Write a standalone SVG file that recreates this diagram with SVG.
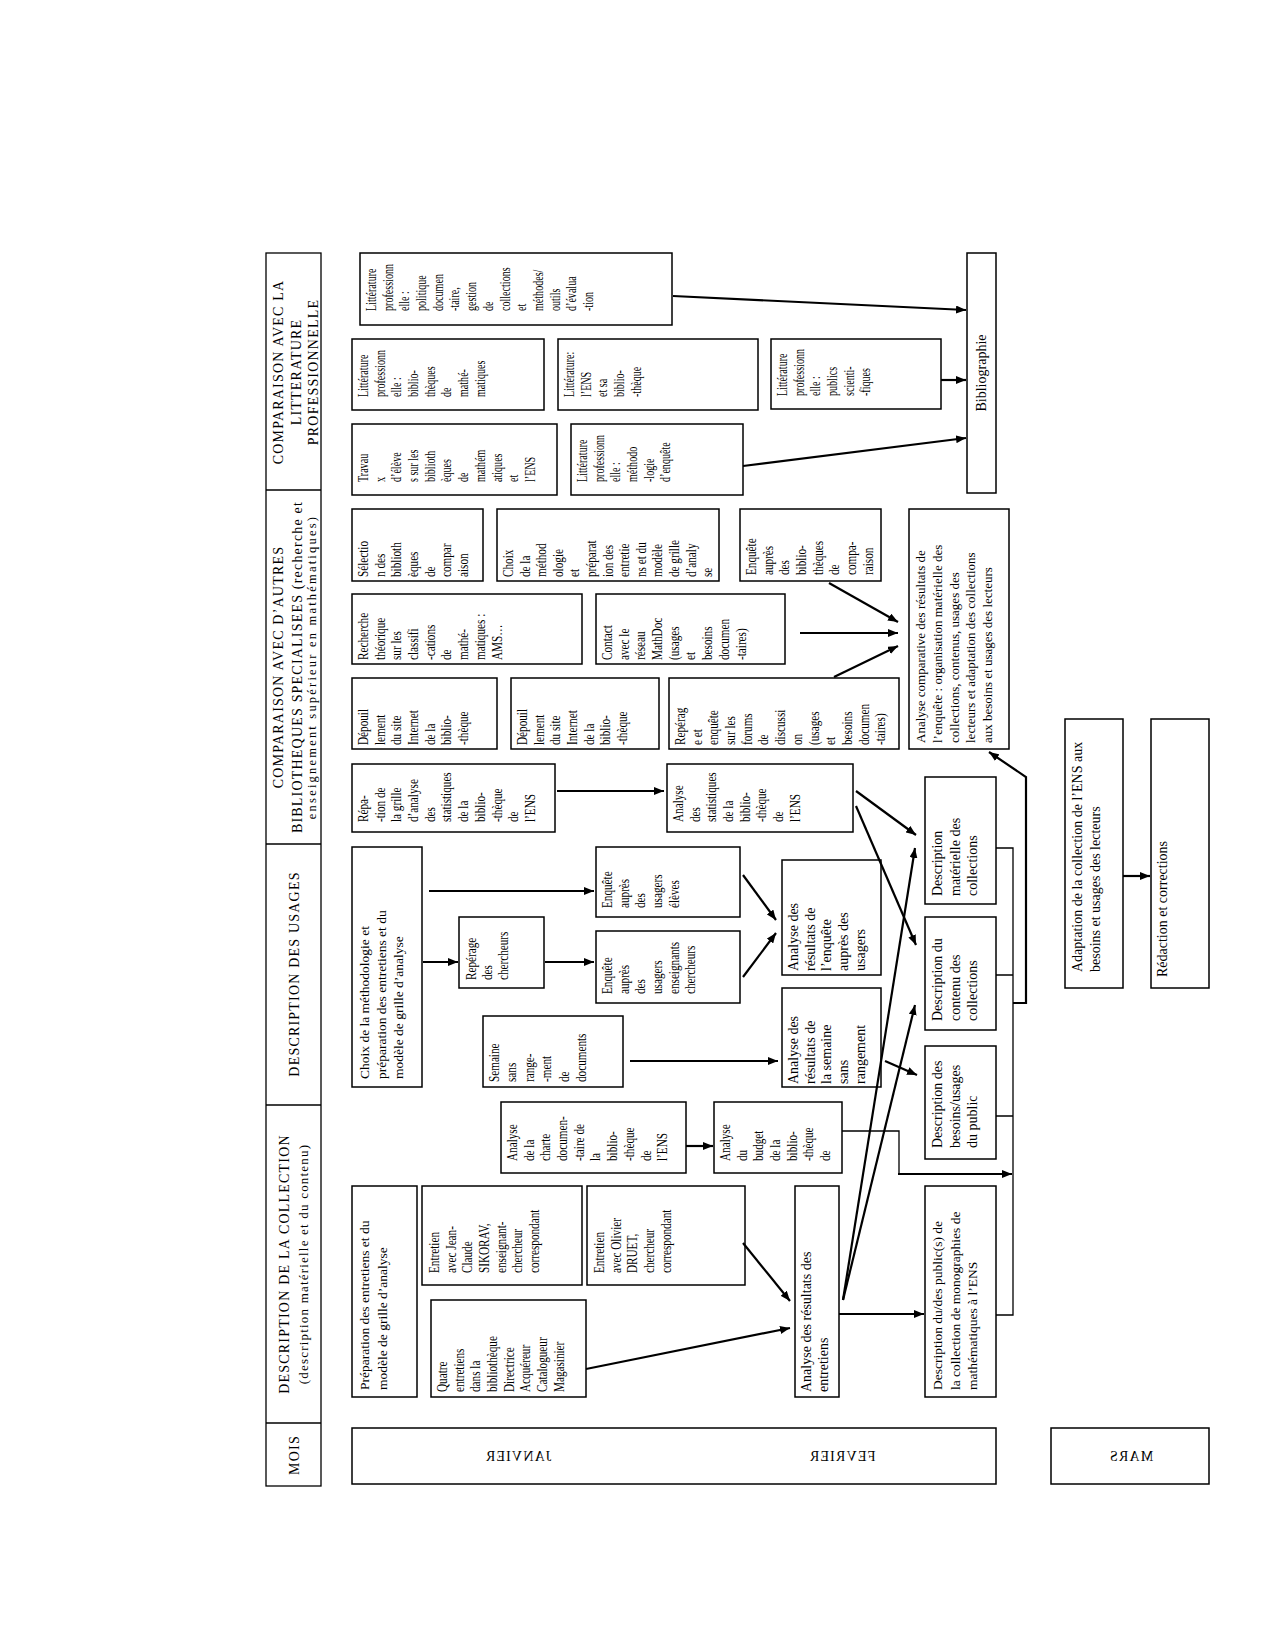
<svg xmlns="http://www.w3.org/2000/svg" width="1276" height="1635" viewBox="0 0 1276 1635">
<style>
.box{fill:#fff;stroke:#000;stroke-width:1.5}
.hb{fill:none;stroke:#000;stroke-width:1.3}
.t{font-family:"Liberation Serif","Times New Roman",serif;font-size:14px;fill:#000}
.h{font-family:"Liberation Serif","Times New Roman",serif;font-size:14px;fill:#000;letter-spacing:1.2px;text-anchor:middle}
.c{stroke:#000;stroke-width:2.2;fill:none}
.th{stroke:#000;stroke-width:1.3;fill:none}
</style>
<defs>
<marker id="ah" viewBox="0 0 10 8" refX="10" refY="4" markerWidth="10" markerHeight="8" markerUnits="userSpaceOnUse" orient="auto"><path d="M0,0 L10,4 L0,8 z" fill="#000"/></marker>
</defs>
<rect width="1276" height="1635" fill="#fff"/>

<g id="header">
<rect class="hb" x="266" y="253" width="55" height="1233"/>
<line class="hb" x1="266" y1="490" x2="321" y2="490"/>
<line class="hb" x1="266" y1="844" x2="321" y2="844"/>
<line class="hb" x1="266" y1="1105" x2="321" y2="1105"/>
<line class="hb" x1="266" y1="1423" x2="321" y2="1423"/>
<text class="h" transform="translate(283,372) rotate(-90)"><tspan x="0" y="0">COMPARAISON AVEC LA</tspan><tspan x="0" dy="17.5">LITTERATURE</tspan><tspan x="0" dy="17.5">PROFESSIONNELLE</tspan></text>
<text class="h" transform="translate(283,667) rotate(-90)"><tspan x="0" y="0">COMPARAISON AVEC D’AUTRES</tspan><tspan x="0" dy="18.5">BIBLIOTHEQUES SPECIALISEES (recherche et</tspan><tspan x="0" dy="14.5" style="font-size:12.5px;letter-spacing:2.2px">enseignement supérieur en mathématiques)</tspan></text>
<text class="h" transform="translate(299,974) rotate(-90)">DESCRIPTION DES USAGES</text>
<text class="h" transform="translate(289,1264) rotate(-90)"><tspan x="0" y="0">DESCRIPTION DE LA COLLECTION</tspan><tspan x="0" dy="18.5" style="font-size:13px">(description matérielle et du contenu)</tspan></text>
<text class="h" transform="translate(299,1455) rotate(-90)">MOIS</text>
</g>

<g id="months">
<rect class="box" x="352" y="1428" width="644" height="56"/>
<rect class="box" x="1051" y="1428" width="158" height="56"/>
<text class="h" transform="translate(518,1461) scale(-1,1)">JANVIER</text>
<text class="h" transform="translate(842,1461) scale(-1,1)">FEVRIER</text>
<text class="h" transform="translate(1131,1461) scale(-1,1)">MARS</text>
</g>

<g id="n-lit-politique">
<rect class="box" x="360" y="253" width="312" height="72"/>
<text class="t" transform="translate(376,311) rotate(-90) scale(0.72,1)"><tspan x="0" y="0">Littérature</tspan><tspan x="0" dy="16.7">professionn</tspan><tspan x="0" dy="16.7">elle :</tspan><tspan x="0" dy="16.7">politique</tspan><tspan x="0" dy="16.7">documen</tspan><tspan x="0" dy="16.7">-taire,</tspan><tspan x="0" dy="16.7">gestion</tspan><tspan x="0" dy="16.7">de</tspan><tspan x="0" dy="16.7">collections</tspan><tspan x="0" dy="16.7">et</tspan><tspan x="0" dy="16.7">méthodes/</tspan><tspan x="0" dy="16.7">outils</tspan><tspan x="0" dy="16.7">d’évalua</tspan><tspan x="0" dy="16.7">-tion</tspan></text>
</g>
<g id="n-lit-biblio-math">
<rect class="box" x="352" y="339" width="192" height="71"/>
<text class="t" transform="translate(368,397) rotate(-90) scale(0.72,1)"><tspan x="0" y="0">Littérature</tspan><tspan x="0" dy="16.7">professionn</tspan><tspan x="0" dy="16.7">elle :</tspan><tspan x="0" dy="16.7">biblio-</tspan><tspan x="0" dy="16.7">thèques</tspan><tspan x="0" dy="16.7">de</tspan><tspan x="0" dy="16.7">mathé-</tspan><tspan x="0" dy="16.7">matiques</tspan></text>
</g>
<g id="n-lit-ens">
<rect class="box" x="558" y="339" width="200" height="71"/>
<text class="t" transform="translate(574,397) rotate(-90) scale(0.72,1)"><tspan x="0" y="0">Littérature:</tspan><tspan x="0" dy="16.7">l’ENS</tspan><tspan x="0" dy="16.7">et sa</tspan><tspan x="0" dy="16.7">biblio-</tspan><tspan x="0" dy="16.7">-thèque</tspan></text>
</g>
<g id="n-lit-publics">
<rect class="box" x="771" y="339" width="170" height="70"/>
<text class="t" transform="translate(787,396) rotate(-90) scale(0.72,1)"><tspan x="0" y="0">Littérature</tspan><tspan x="0" dy="16.7">professionn</tspan><tspan x="0" dy="16.7">elle :</tspan><tspan x="0" dy="16.7">publics</tspan><tspan x="0" dy="16.7">scienti-</tspan><tspan x="0" dy="16.7">-fiques</tspan></text>
</g>
<g id="n-travaux">
<rect class="box" x="352" y="424" width="205" height="71"/>
<text class="t" transform="translate(368,482) rotate(-90) scale(0.72,1)"><tspan x="0" y="0">Travau</tspan><tspan x="0" dy="16.7">x</tspan><tspan x="0" dy="16.7">d’élève</tspan><tspan x="0" dy="16.7">s sur les</tspan><tspan x="0" dy="16.7">biblioth</tspan><tspan x="0" dy="16.7">èques</tspan><tspan x="0" dy="16.7">de</tspan><tspan x="0" dy="16.7">mathém</tspan><tspan x="0" dy="16.7">atiques</tspan><tspan x="0" dy="16.7">et</tspan><tspan x="0" dy="16.7">l’ENS</tspan></text>
</g>
<g id="n-lit-methodo">
<rect class="box" x="571" y="424" width="172" height="71"/>
<text class="t" transform="translate(587,482) rotate(-90) scale(0.72,1)"><tspan x="0" y="0">Littérature</tspan><tspan x="0" dy="16.7">professionn</tspan><tspan x="0" dy="16.7">elle :</tspan><tspan x="0" dy="16.7">méthodo</tspan><tspan x="0" dy="16.7">-logie</tspan><tspan x="0" dy="16.7">d’enquête</tspan></text>
</g>
<g id="n-bibliographie">
<rect class="box" x="967" y="253" width="29" height="240"/>
<text class="t" transform="translate(986,373) rotate(-90)" text-anchor="middle">Bibliographie</text>
</g>

<g id="n-selection">
<rect class="box" x="352" y="509" width="131" height="72"/>
<text class="t" transform="translate(368,577) rotate(-90) scale(0.8,1)"><tspan x="0" y="0">Sélectio</tspan><tspan x="0" dy="16.7">n des</tspan><tspan x="0" dy="16.7">biblioth</tspan><tspan x="0" dy="16.7">èques</tspan><tspan x="0" dy="16.7">de</tspan><tspan x="0" dy="16.7">compar</tspan><tspan x="0" dy="16.7">aison</tspan></text>
</g>
<g id="n-choix-methodo-comp">
<rect class="box" x="497" y="509" width="222" height="72"/>
<text class="t" transform="translate(513,577) rotate(-90) scale(0.8,1)"><tspan x="0" y="0">Choix</tspan><tspan x="0" dy="16.6">de la</tspan><tspan x="0" dy="16.6">méthod</tspan><tspan x="0" dy="16.6">ologie</tspan><tspan x="0" dy="16.6">et</tspan><tspan x="0" dy="16.6">préparat</tspan><tspan x="0" dy="16.6">ion des</tspan><tspan x="0" dy="16.6">entretie</tspan><tspan x="0" dy="16.6">ns et du</tspan><tspan x="0" dy="16.6">modèle</tspan><tspan x="0" dy="16.6">de grille</tspan><tspan x="0" dy="16.6">d’analy</tspan><tspan x="0" dy="16.6">se</tspan></text>
</g>
<g id="n-enquete-biblio">
<rect class="box" x="740" y="509" width="141" height="72"/>
<text class="t" transform="translate(756,575) rotate(-90) scale(0.8,1)"><tspan x="0" y="0">Enquête</tspan><tspan x="0" dy="16.7">auprès</tspan><tspan x="0" dy="16.7">des</tspan><tspan x="0" dy="16.7">biblio-</tspan><tspan x="0" dy="16.7">thèques</tspan><tspan x="0" dy="16.7">de</tspan><tspan x="0" dy="16.7">compa-</tspan><tspan x="0" dy="16.7">raison</tspan></text>
</g>
<g id="n-recherche">
<rect class="box" x="352" y="594" width="230" height="70"/>
<text class="t" transform="translate(368,660) rotate(-90) scale(0.8,1)"><tspan x="0" y="0">Recherche</tspan><tspan x="0" dy="16.7">théorique</tspan><tspan x="0" dy="16.7">sur les</tspan><tspan x="0" dy="16.7">classifi</tspan><tspan x="0" dy="16.7">-cations</tspan><tspan x="0" dy="16.7">de</tspan><tspan x="0" dy="16.7">mathé-</tspan><tspan x="0" dy="16.7">matiques :</tspan><tspan x="0" dy="16.7">AMS…</tspan></text>
</g>
<g id="n-contact">
<rect class="box" x="596" y="594" width="189" height="70"/>
<text class="t" transform="translate(612,660) rotate(-90) scale(0.8,1)"><tspan x="0" y="0">Contact</tspan><tspan x="0" dy="16.7">avec le</tspan><tspan x="0" dy="16.7">réseau</tspan><tspan x="0" dy="16.7">MathDoc</tspan><tspan x="0" dy="16.7">(usages</tspan><tspan x="0" dy="16.7">et</tspan><tspan x="0" dy="16.7">besoins</tspan><tspan x="0" dy="16.7">documen</tspan><tspan x="0" dy="16.7">-taires)</tspan></text>
</g>
<g id="n-depouillement-1">
<rect class="box" x="352" y="678" width="145" height="71"/>
<text class="t" transform="translate(368,745) rotate(-90) scale(0.8,1)"><tspan x="0" y="0">Dépouil</tspan><tspan x="0" dy="16.7">lement</tspan><tspan x="0" dy="16.7">du site</tspan><tspan x="0" dy="16.7">Internet</tspan><tspan x="0" dy="16.7">de la</tspan><tspan x="0" dy="16.7">biblio-</tspan><tspan x="0" dy="16.7">-thèque</tspan></text>
</g>
<g id="n-depouillement-2">
<rect class="box" x="511" y="678" width="148" height="71"/>
<text class="t" transform="translate(527,745) rotate(-90) scale(0.8,1)"><tspan x="0" y="0">Dépouil</tspan><tspan x="0" dy="16.7">lement</tspan><tspan x="0" dy="16.7">du site</tspan><tspan x="0" dy="16.7">Internet</tspan><tspan x="0" dy="16.7">de la</tspan><tspan x="0" dy="16.7">biblio-</tspan><tspan x="0" dy="16.7">-thèque</tspan></text>
</g>
<g id="n-forums">
<rect class="box" x="669" y="678" width="230" height="71"/>
<text class="t" transform="translate(685,745) rotate(-90) scale(0.8,1)"><tspan x="0" y="0">Repérag</tspan><tspan x="0" dy="16.7">e et</tspan><tspan x="0" dy="16.7">enquête</tspan><tspan x="0" dy="16.7">sur les</tspan><tspan x="0" dy="16.7">forums</tspan><tspan x="0" dy="16.7">de</tspan><tspan x="0" dy="16.7">discussi</tspan><tspan x="0" dy="16.7">on</tspan><tspan x="0" dy="16.7">(usages</tspan><tspan x="0" dy="16.7">et</tspan><tspan x="0" dy="16.7">besoins</tspan><tspan x="0" dy="16.7">documen</tspan><tspan x="0" dy="16.7">-taires)</tspan></text>
</g>
<g id="n-analyse-comparative">
<rect class="box" x="909" y="509" width="100" height="240"/>
<text class="t" transform="translate(925,743) rotate(-90)" style="font-size:13px"><tspan x="0" y="0">Analyse comparative des résultats de</tspan><tspan x="0" dy="16.8">l’enquête : organisation matérielle des</tspan><tspan x="0" dy="16.8">collections, contenus, usages des</tspan><tspan x="0" dy="16.8">lecteurs et adaptation des collections</tspan><tspan x="0" dy="16.8">aux besoins et usages des lecteurs</tspan></text>
</g>
<g id="n-grille-stats">
<rect class="box" x="352" y="764" width="203" height="68"/>
<text class="t" transform="translate(368,822) rotate(-90) scale(0.8,1)"><tspan x="0" y="0">Répa-</tspan><tspan x="0" dy="16.7">-tion de</tspan><tspan x="0" dy="16.7">la grille</tspan><tspan x="0" dy="16.7">d’analyse</tspan><tspan x="0" dy="16.7">des</tspan><tspan x="0" dy="16.7">statistiques</tspan><tspan x="0" dy="16.7">de la</tspan><tspan x="0" dy="16.7">biblio-</tspan><tspan x="0" dy="16.7">-thèque</tspan><tspan x="0" dy="16.7">de</tspan><tspan x="0" dy="16.7">l’ENS</tspan></text>
</g>
<g id="n-analyse-stats">
<rect class="box" x="667" y="764" width="186" height="68"/>
<text class="t" transform="translate(683,822) rotate(-90) scale(0.8,1)"><tspan x="0" y="0">Analyse</tspan><tspan x="0" dy="16.7">des</tspan><tspan x="0" dy="16.7">statistiques</tspan><tspan x="0" dy="16.7">de la</tspan><tspan x="0" dy="16.7">biblio-</tspan><tspan x="0" dy="16.7">-thèque</tspan><tspan x="0" dy="16.7">de</tspan><tspan x="0" dy="16.7">l’ENS</tspan></text>
</g>

<g id="n-choix-methodo-usages">
<rect class="box" x="352" y="847" width="70" height="240"/>
<text class="t" transform="translate(369,1079) rotate(-90)" style="font-size:13.5px"><tspan x="0" y="0">Choix de la méthodologie et</tspan><tspan x="0" dy="17">préparation des entretiens et du</tspan><tspan x="0" dy="17">modèle de grille d’analyse</tspan></text>
</g>
<g id="n-reperage-chercheurs">
<rect class="box" x="459" y="917" width="85" height="71"/>
<text class="t" transform="translate(476,980) rotate(-90) scale(0.8,1)"><tspan x="0" y="0">Repérage</tspan><tspan x="0" dy="16">des</tspan><tspan x="0" dy="16">chercheurs</tspan></text>
</g>
<g id="n-enquete-eleves">
<rect class="box" x="596" y="847" width="144" height="70"/>
<text class="t" transform="translate(612,908) rotate(-90) scale(0.8,1)"><tspan x="0" y="0">Enquête</tspan><tspan x="0" dy="16.7">auprès</tspan><tspan x="0" dy="16.7">des</tspan><tspan x="0" dy="16.7">usagers</tspan><tspan x="0" dy="16.7">élèves</tspan></text>
</g>
<g id="n-enquete-enseignants">
<rect class="box" x="596" y="931" width="144" height="72"/>
<text class="t" transform="translate(612,994) rotate(-90) scale(0.8,1)"><tspan x="0" y="0">Enquête</tspan><tspan x="0" dy="16.7">auprès</tspan><tspan x="0" dy="16.7">des</tspan><tspan x="0" dy="16.7">usagers</tspan><tspan x="0" dy="16.7">enseignants</tspan><tspan x="0" dy="16.7">chercheurs</tspan></text>
</g>
<g id="n-analyse-enquete-usagers">
<rect class="box" x="782" y="860" width="99" height="115"/>
<text class="t" transform="translate(798,971) rotate(-90)"><tspan x="0" y="0">Analyse des</tspan><tspan x="0" dy="16.7">résultats de</tspan><tspan x="0" dy="16.7">l’enquête</tspan><tspan x="0" dy="16.7">auprès des</tspan><tspan x="0" dy="16.7">usagers</tspan></text>
</g>
<g id="n-semaine">
<rect class="box" x="483" y="1016" width="140" height="71"/>
<text class="t" transform="translate(499,1082) rotate(-90) scale(0.8,1)"><tspan x="0" y="0">Semaine</tspan><tspan x="0" dy="17.5">sans</tspan><tspan x="0" dy="17.5">range-</tspan><tspan x="0" dy="17.5">-ment</tspan><tspan x="0" dy="17.5">de</tspan><tspan x="0" dy="17.5">documents</tspan></text>
</g>
<g id="n-analyse-semaine">
<rect class="box" x="782" y="988" width="99" height="99"/>
<text class="t" transform="translate(798,1084) rotate(-90)"><tspan x="0" y="0">Analyse des</tspan><tspan x="0" dy="16.7">résultats de</tspan><tspan x="0" dy="16.7">la semaine</tspan><tspan x="0" dy="16.7">sans</tspan><tspan x="0" dy="16.7">rangement</tspan></text>
</g>

<g id="n-desc-materielle">
<rect class="box" x="925" y="777" width="71" height="127"/>
<text class="t" transform="translate(942,896) rotate(-90)"><tspan x="0" y="0">Description</tspan><tspan x="0" dy="17.5">matérielle des</tspan><tspan x="0" dy="17.5">collections</tspan></text>
</g>
<g id="n-desc-contenu">
<rect class="box" x="925" y="917" width="71" height="113"/>
<text class="t" transform="translate(942,1021) rotate(-90)"><tspan x="0" y="0">Description du</tspan><tspan x="0" dy="17.5">contenu des</tspan><tspan x="0" dy="17.5">collections</tspan></text>
</g>
<g id="n-desc-besoins">
<rect class="box" x="925" y="1046" width="71" height="113"/>
<text class="t" transform="translate(942,1148) rotate(-90)"><tspan x="0" y="0">Description des</tspan><tspan x="0" dy="17.5">besoins/usages</tspan><tspan x="0" dy="17.5">du public</tspan></text>
</g>
<g id="n-desc-publics">
<rect class="box" x="925" y="1186" width="71" height="211"/>
<text class="t" transform="translate(942,1390) rotate(-90)" style="font-size:13.5px"><tspan x="0" y="0">Description du/des public(s) de</tspan><tspan x="0" dy="17.5">la collection de monographies de</tspan><tspan x="0" dy="17.5">mathématiques à l’ENS</tspan></text>
</g>

<g id="n-charte">
<rect class="box" x="501" y="1102" width="185" height="71"/>
<text class="t" transform="translate(517,1161) rotate(-90) scale(0.8,1)"><tspan x="0" y="0">Analyse</tspan><tspan x="0" dy="16.7">de la</tspan><tspan x="0" dy="16.7">charte</tspan><tspan x="0" dy="16.7">documen-</tspan><tspan x="0" dy="16.7">-taire de</tspan><tspan x="0" dy="16.7">la</tspan><tspan x="0" dy="16.7">biblio-</tspan><tspan x="0" dy="16.7">-thèque</tspan><tspan x="0" dy="16.7">de</tspan><tspan x="0" dy="16.7">l’ENS</tspan></text>
</g>
<g id="n-budget">
<rect class="box" x="714" y="1102" width="128" height="71"/>
<text class="t" transform="translate(730,1161) rotate(-90) scale(0.8,1)"><tspan x="0" y="0">Analyse</tspan><tspan x="0" dy="16.7">du</tspan><tspan x="0" dy="16.7">budget</tspan><tspan x="0" dy="16.7">de la</tspan><tspan x="0" dy="16.7">biblio-</tspan><tspan x="0" dy="16.7">-thèque</tspan><tspan x="0" dy="16.7">de</tspan></text>
</g>
<g id="n-preparation-entretiens">
<rect class="box" x="352" y="1186" width="65" height="211"/>
<text class="t" transform="translate(369,1390) rotate(-90)" style="font-size:13.5px"><tspan x="0" y="0">Préparation des entretiens et du</tspan><tspan x="0" dy="17.5">modèle de grille d’analyse</tspan></text>
</g>
<g id="n-entretien-sikorav">
<rect class="box" x="422" y="1186" width="160" height="99"/>
<text class="t" transform="translate(439,1273) rotate(-90) scale(0.8,1)"><tspan x="0" y="0">Entretien</tspan><tspan x="0" dy="16.7">avec Jean-</tspan><tspan x="0" dy="16.7">Claude</tspan><tspan x="0" dy="16.7">SIKORAV,</tspan><tspan x="0" dy="16.7">enseignant-</tspan><tspan x="0" dy="16.7">chercheur</tspan><tspan x="0" dy="16.7">correspondant</tspan></text>
</g>
<g id="n-entretien-druet">
<rect class="box" x="587" y="1186" width="158" height="99"/>
<text class="t" transform="translate(604,1273) rotate(-90) scale(0.8,1)"><tspan x="0" y="0">Entretien</tspan><tspan x="0" dy="16.7">avec Olivier</tspan><tspan x="0" dy="16.7">DRUET,</tspan><tspan x="0" dy="16.7">chercheur</tspan><tspan x="0" dy="16.7">correspondant</tspan></text>
</g>
<g id="n-quatre-entretiens">
<rect class="box" x="431" y="1300" width="155" height="97"/>
<text class="t" transform="translate(447,1392) rotate(-90) scale(0.8,1)"><tspan x="0" y="0">Quatre</tspan><tspan x="0" dy="16.7">entretiens</tspan><tspan x="0" dy="16.7">dans la</tspan><tspan x="0" dy="16.7">bibliothèque</tspan><tspan x="0" dy="16.7">Directrice</tspan><tspan x="0" dy="16.7">Acquéreur</tspan><tspan x="0" dy="16.7">Catalogueur</tspan><tspan x="0" dy="16.7">Magasinier</tspan></text>
</g>
<g id="n-analyse-entretiens">
<rect class="box" x="795" y="1186" width="44" height="211"/>
<text class="t" transform="translate(811,1392) rotate(-90)"><tspan x="0" y="0">Analyse des résultats des</tspan><tspan x="0" dy="17">entretiens</tspan></text>
</g>

<g id="n-adaptation">
<rect class="box" x="1065" y="719" width="58" height="269"/>
<text class="t" transform="translate(1082,972) rotate(-90)"><tspan x="0" y="0">Adaptation de la collection de l’ENS aux</tspan><tspan x="0" dy="17.5">besoins et usages des lecteurs</tspan></text>
</g>
<g id="n-redaction">
<rect class="box" x="1151" y="719" width="58" height="269"/>
<text class="t" transform="translate(1167,977) rotate(-90)">Rédaction et corrections</text>
</g>

<g id="connectors">
<line class="c" x1="673" y1="296" x2="966" y2="310" marker-end="url(#ah)"/>
<line class="c" x1="941" y1="380" x2="966" y2="380" marker-end="url(#ah)"/>
<line class="c" x1="743" y1="466" x2="966" y2="438" marker-end="url(#ah)"/>
<line class="c" x1="829" y1="583" x2="898" y2="622" marker-end="url(#ah)"/>
<line class="c" x1="800" y1="633" x2="898" y2="633" marker-end="url(#ah)"/>
<line class="c" x1="834" y1="677" x2="898" y2="646" marker-end="url(#ah)"/>
<line class="c" x1="557" y1="791" x2="664" y2="791" marker-end="url(#ah)"/>
<path class="c" d="M1013,1003 H1026 V777 L989,752" marker-end="url(#ah)"/>
<path class="th" d="M996,848 H1013 V1315 H996 M996,975 H1013 M996,1116 H1013"/>
<line class="c" x1="429" y1="891" x2="594" y2="891" marker-end="url(#ah)"/>
<line class="c" x1="423" y1="962" x2="458" y2="962" marker-end="url(#ah)"/>
<line class="c" x1="545" y1="962" x2="594" y2="962" marker-end="url(#ah)"/>
<line class="c" x1="743" y1="875" x2="776" y2="920" marker-end="url(#ah)"/>
<line class="c" x1="743" y1="977" x2="776" y2="933" marker-end="url(#ah)"/>
<line class="c" x1="630" y1="1061" x2="778" y2="1061" marker-end="url(#ah)"/>
<line class="c" x1="856" y1="791" x2="916" y2="835" marker-end="url(#ah)"/>
<line class="c" x1="856" y1="806" x2="916" y2="945" marker-end="url(#ah)"/>
<line class="c" x1="843" y1="1300" x2="915" y2="848" marker-end="url(#ah)"/>
<line class="c" x1="843" y1="1300" x2="915" y2="1005" marker-end="url(#ah)"/>
<line class="c" x1="885" y1="1061" x2="917" y2="1075" marker-end="url(#ah)"/>
<line class="c" x1="686" y1="1146" x2="713" y2="1146" marker-end="url(#ah)"/>
<path class="th" d="M842,1131 H899 V1174"/>
<line class="c" x1="898" y1="1174" x2="1012" y2="1174" marker-end="url(#ah)"/>
<line class="c" x1="743" y1="1243" x2="790" y2="1301" marker-end="url(#ah)"/>
<line class="c" x1="586" y1="1369" x2="790" y2="1328" marker-end="url(#ah)"/>
<line class="c" x1="839" y1="1314" x2="924" y2="1314" marker-end="url(#ah)"/>
<line class="c" x1="1123" y1="876" x2="1150" y2="876" marker-end="url(#ah)"/>
</g>
</svg>
